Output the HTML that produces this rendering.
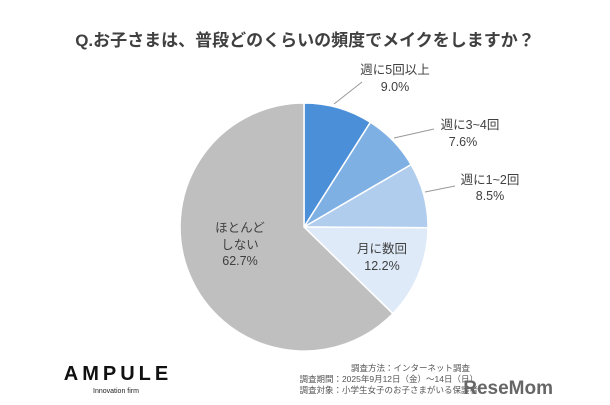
<!DOCTYPE html>
<html><head><meta charset="utf-8"><style>
body{margin:0;width:610px;height:400px;background:#fff;overflow:hidden;font-family:"Liberation Sans","Noto Sans CJK JP",sans-serif;}
</style></head><body>
<svg width="610" height="400" viewBox="0 0 610 400" xmlns="http://www.w3.org/2000/svg" font-family="Liberation Sans, Noto Sans CJK JP, sans-serif">
<text x="305" y="46" text-anchor="middle" font-size="17" font-weight="bold" fill="#404040">Q.お子さまは、普段どのくらいの頻度でメイクをしますか？</text>
<g stroke="#fff" stroke-width="1.5">
<path d="M304,227 L304,103 A124,124 0 0 1 370.4,122.3 Z" fill="#4a8fd8"/>
<path d="M304,227 L370.4,122.3 A124,124 0 0 1 411.1,164.6 Z" fill="#7fb0e4"/>
<path d="M304,227 L411.1,164.6 A124,124 0 0 1 428,227.8 Z" fill="#b0cdee"/>
<path d="M304,227 L428,227.8 A124,124 0 0 1 392.8,313.6 Z" fill="#deeaf8"/>
<path d="M304,227 L392.8,313.6 A124,124 0 1 1 304,103 Z" fill="#bfbfbf"/>
</g>
<g stroke="#999" stroke-width="1">
<line x1="334" y1="104" x2="362" y2="82"/>
<line x1="394" y1="138" x2="434" y2="129"/>
<line x1="425" y1="192" x2="455" y2="186"/>
</g>
<g font-size="12.5" fill="#404040" text-anchor="middle">
<text x="395" y="74">週に5回以上</text><text x="395" y="91">9.0%</text>
<text x="470" y="129">週に3~4回</text><text x="463" y="146">7.6%</text>
<text x="490" y="184">週に1~2回</text><text x="490" y="200">8.5%</text>
<text x="382" y="253">月に数回</text><text x="382" y="270">12.2%</text>
<text x="240" y="232">ほとんど</text><text x="240" y="249">しない</text><text x="240" y="265">62.7%</text>
</g>
<text x="118" y="380" text-anchor="middle" font-size="20" font-weight="bold" fill="#111" letter-spacing="4">AMPULE</text>
<text x="116" y="393" text-anchor="middle" font-size="7" fill="#222">Innovation firm</text>
<g font-size="8.5" fill="#555" text-anchor="end">
<text x="470" y="371">調査方法：インターネット調査</text>
<text x="478" y="382">調査期間：2025年9月12日（金）～14日（日）</text>
<text x="478" y="393">調査対象：小学生女子のお子さまがいる保護者</text>
</g>
<text x="553" y="394" text-anchor="end" font-size="19" font-weight="bold" fill="#666">ReseMom</text>
</svg>
</body></html>
